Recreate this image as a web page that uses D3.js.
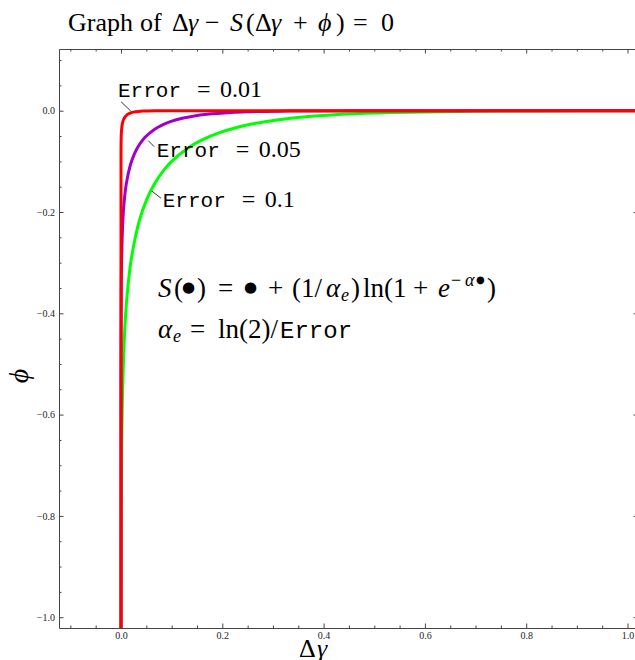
<!DOCTYPE html>
<html><head><meta charset="utf-8">
<script src="https://cdn.jsdelivr.net/npm/d3@7"></script>
<style>
body{margin:0;background:#fff;}
svg{display:block;}
</style></head><body>
<script>
// Contours of Δγ − S(Δγ + ϕ) = 0 for three error tolerances

const errorLevels = ["0.1", "0.05", "0.01"];
const curveColors = ["#00ff00", "#a000c8", "#ff0000"];

// Error = 0.1
const dg010 = [0.0001, 0.000132, 0.000975, 0.002669, 0.007372, 0.012357, 0.020977, 0.036414, 0.051705,
  0.066177, 0.086075, 0.1, 0.13457, 0.16009, 0.19479, 0.24638, 0.28438, 0.33935, 0.4358, 0.50803,
  0.56583, 0.66512, 0.76475, 0.89673, 0.99666, 1.0288];
const phi010 = [-1.03, -1.00989, -0.72135, -0.57708, -0.43281, -0.360675, -0.28854, -0.2164, -0.173124,
  -0.14427, -0.115416, -0.1, -0.072135, -0.057708, -0.043281, -0.028854, -0.02164, -0.014427, -0.007213, -0.004328,
  -0.002885, -0.001443, -0.000721, -0.000289, -0.000144, -0.000115];

// Error = 0.05
const dg005 = [0.0, 0.0000033, 0.0000658, 0.000488, 0.001335, 0.003686, 0.006178, 0.010488, 0.018207,
  0.02585, 0.03309, 0.04304, 0.05, 0.06729, 0.08004, 0.0974, 0.12319, 0.14219, 0.16967, 0.2179,
  0.25402, 0.28291, 0.33256, 0.38237, 0.49832, 0.66439, 0.99659, 1.04659];
const phi005 = [-1.03, -0.72135, -0.50494, -0.36067, -0.28854, -0.2164, -0.18034, -0.14427, -0.1082,
  -0.086562, -0.072135, -0.057708, -0.05, -0.036067, -0.028854, -0.02164, -0.014427, -0.01082, -0.007213, -0.003607,
  -0.002164, -0.001443, -0.000721, -0.000361, -0.0000721, -0.0000072, -0.0000001, 0];

// Error = 0.01
const dg001 = [0.0, 0.0000132, 0.0000975, 0.000267, 0.000737, 0.002098, 0.003641, 0.00517, 0.006618,
  0.008607, 0.01, 0.013457, 0.016009, 0.01948, 0.02464, 0.03394, 0.04358, 0.06651, 0.09967, 0.19932, 1.04];
const phi001 = [-1.03, -0.10099, -0.072135, -0.057708, -0.043281, -0.028854, -0.02164, -0.017312, -0.014427,
  -0.011542, -0.01, -0.007213, -0.005771, -0.004328, -0.002885, -0.001443, -0.000721, -0.000144, -0.0000144, 0, 0];

const xMajor = [0, 0.2, 0.4, 0.6, 0.8, 1.0];
const xMajorLabels = ["0.0", "0.2", "0.4", "0.6", "0.8", "1.0"];
const xMinor = [-0.1, -0.05, 0.05, 0.1, 0.15, 0.25, 0.3, 0.35, 0.45, 0.5, 0.55, 0.65, 0.7, 0.75, 0.85, 0.9, 0.95];
const yMajor = [0, -0.2, -0.4, -0.6, -0.8, -1.0];
const yMajorLabels = ["0.0", "\u22120.2", "\u22120.4", "\u22120.6", "\u22120.8", "\u22121.0"];
const yMinor = [0.1, 0.05, -0.05, -0.1, -0.15, -0.25, -0.3, -0.35, -0.45, -0.5, -0.55, -0.65, -0.7, -0.75,
  -0.85, -0.9, -0.95];

// Label anchors (data coordinates): text start, leader line start and end
const labelText = [[0.0824, -0.1907], [0.0706, -0.0908], [-0.0059, 0.027]];
const leaderFrom = [[0.0607, -0.1585], [0.054, -0.0592], [0.0, 0.0178]];
const leaderTo = [[0.0791, -0.173], [0.0656, -0.0711], [0.0192, -0.0006]];
// formula block anchor (data coordinates) and line spacing in ϕ units
const formulaAt = [0.0731, -0.3679];
const formulaStep = -0.081;

const W = 635, H = 660;
const serif = "'Liberation Serif', 'DejaVu Serif', serif";
const mono = "'Liberation Mono', 'DejaVu Sans Mono', monospace";
const sym = "'DejaVu Sans', sans-serif";

const x = d3.scaleLinear().domain([-0.1224, 1.0207]).range([59, 638]);
const y = d3.scaleLinear().domain([-1.0213, 0.1218]).range([628, 49]);

const svg = d3.select("body").append("svg").attr("width", W).attr("height", H);

svg.append("defs").append("clipPath").attr("id", "plotclip")
  .append("rect").attr("x", x.range()[0]).attr("y", y.range()[1])
  .attr("width", x.range()[1] - x.range()[0]).attr("height", y.range()[0] - y.range()[1]);

// frame with inward ticks on all four sides
function styleAxis(g) {
  g.selectAll("path.domain").attr("stroke", "#444").attr("stroke-width", 1);
  g.selectAll(".tick line").attr("stroke", "#444").attr("stroke-width", 1);
  g.selectAll(".tick text").attr("font-family", serif).attr("font-size", 10).attr("fill", "#222");
}
const axes = svg.append("g");
const sides = [
  {make: () => d3.axisBottom(x), t: `translate(0,${y.range()[0]})`, maj: xMajor, min: xMinor, lab: xMajorLabels},
  {make: () => d3.axisTop(x), t: `translate(0,${y.range()[1]})`, maj: xMajor, min: xMinor, lab: null},
  {make: () => d3.axisLeft(y), t: `translate(${x.range()[0]},0)`, maj: yMajor, min: yMinor, lab: yMajorLabels},
  {make: () => d3.axisRight(y), t: `translate(${x.range()[1]},0)`, maj: yMajor, min: yMinor, lab: null}
];
sides.forEach(s => {
  const gMaj = axes.append("g").attr("transform", s.t)
    .call(s.make().tickValues(s.maj).tickSizeInner(-4.5).tickSizeOuter(0).tickPadding(4)
      .tickFormat((d, i) => s.lab ? s.lab[i] : ""));
  styleAxis(gMaj);
  const gMin = axes.append("g").attr("transform", s.t)
    .call(s.make().tickValues(s.min).tickSizeInner(-2.5).tickSizeOuter(0).tickFormat(""));
  gMin.select("path.domain").remove();
  styleAxis(gMin);
});

// curves
const line = d3.line().x(d => x(d[0])).y(d => y(d[1])).curve(d3.curveCatmullRom.alpha(0.5));
const series = [d3.zip(dg010, phi010), d3.zip(dg005, phi005), d3.zip(dg001, phi001)];
svg.append("g").attr("clip-path", "url(#plotclip)")
  .selectAll("path").data(series).join("path")
  .attr("d", line)
  .attr("fill", "none")
  .attr("stroke", (d, i) => curveColors[i])
  .attr("stroke-width", 3)
  .attr("stroke-linejoin", "round");

// curve labels with leader lines
const labels = svg.append("g");
errorLevels.forEach((e, i) => {
  labels.append("line")
    .attr("x1", x(leaderFrom[i][0])).attr("y1", y(leaderFrom[i][1]))
    .attr("x2", x(leaderTo[i][0])).attr("y2", y(leaderTo[i][1]))
    .attr("stroke", "#000").attr("stroke-width", 0.8);
  const tx = x(labelText[i][0]), ty = y(labelText[i][1]);
  const t = labels.append("text").attr("x", tx).attr("y", ty).attr("font-size", 24).attr("font-family", serif);
  t.append("tspan").attr("font-family", mono).attr("font-size", 21).text("Error");
  t.append("tspan").attr("x", tx + 79).text("=");
  t.append("tspan").attr("x", tx + 102).text(e);
});

// typeset a line of math from pieces: [text, x offset, options]
function mathLine(x0, y0, size, pieces) {
  const t = svg.append("text").attr("y", y0).attr("font-family", serif).attr("font-size", size);
  pieces.forEach(([txt, dx, o = {}]) => {
    t.append("tspan")
      .attr("x", x0 + dx)
      .attr("y", y0 + (o.shift || 0))
      .attr("font-style", o.it ? "italic" : null)
      .attr("font-family", o.fam || null)
      .attr("font-size", o.size || null)
      .text(txt);
  });
  return t;
}

const fx = x(formulaAt[0]), fy1 = y(formulaAt[1]), fy2 = y(formulaAt[1] + formulaStep);
mathLine(fx, fy1, 27, [
  ["S", 0, {it: true}], ["(", 16],
  ["\u25cf", 24, {fam: sym, size: 15, shift: -5}], [")", 39],
  ["=", 60], ["\u25cf", 86, {fam: sym, size: 15, shift: -5}], ["+", 110],
  ["(1/", 134], ["\u03b1", 168, {it: true}], ["e", 183, {it: true, size: 18, shift: 4}], [")", 193],
  ["ln(1", 205], ["+", 255], ["e", 280, {it: true}],
  ["\u2212", 293, {size: 18, shift: -11}], ["\u03b1", 307, {it: true, size: 18, shift: -11}],
  ["\u25cf", 318, {fam: sym, size: 10, shift: -14}], [")", 329]
]);
mathLine(fx, fy2, 27, [
  ["\u03b1", 0, {it: true}], ["e", 15, {it: true, size: 18, shift: 4}],
  ["=", 32], ["ln(2)/", 60], ["Error", 122, {fam: mono, size: 24}]
]);

// title
mathLine(68, 31, 26, [
  ["Graph", 0], ["of", 72], ["\u0394", 104], ["\u03b3", 120, {it: true}], ["\u2212", 137],
  ["S", 162, {it: true}], ["(", 178], ["\u0394", 187], ["\u03b3", 203, {it: true}],
  ["+", 225], ["\u03d5", 250, {it: true}], [")", 268], ["=", 285], ["0", 313]
]);

// axis titles
mathLine(299, 657, 26, [["\u0394", 0], ["\u03b3", 18, {it: true}]]);

svg.append("text").attr("transform", "translate(28,376) rotate(-90)").attr("text-anchor", "middle")
  .attr("font-family", serif).attr("font-size", 28).attr("font-style", "italic").text("\u03d5");
</script>
</body></html>
